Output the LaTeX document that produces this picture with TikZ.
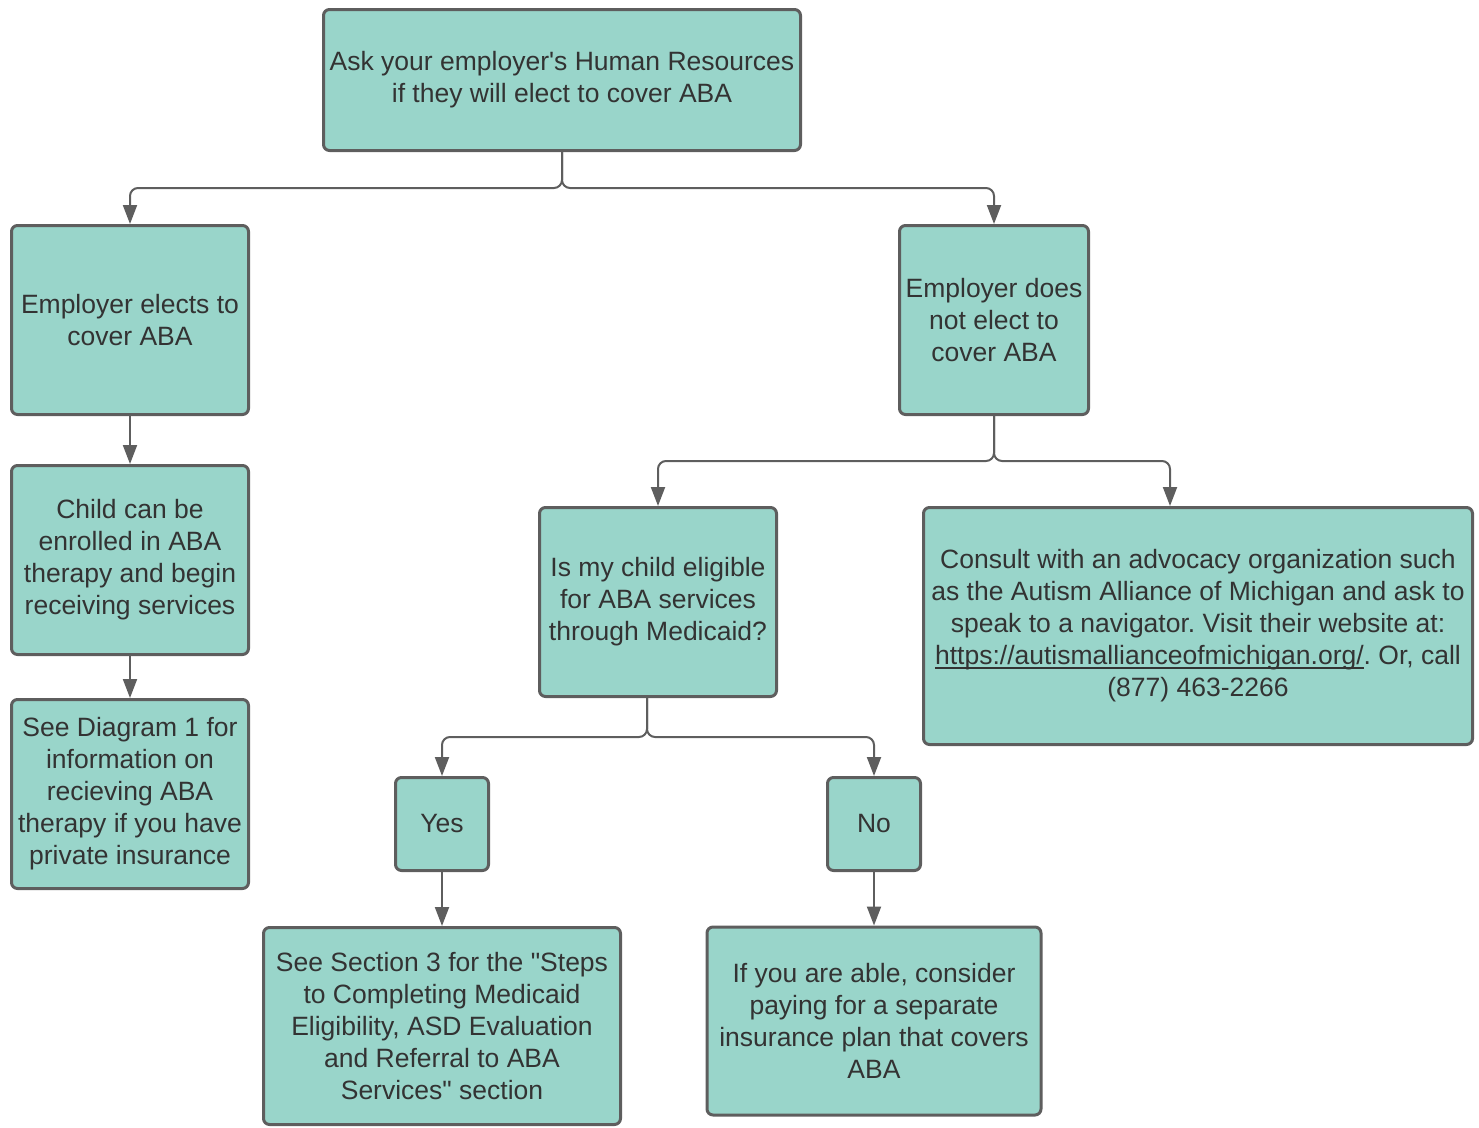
\documentclass[tikz,border=0pt]{standalone}
\usepackage{fontspec}
\setmainfont{Liberation Sans}[Ligatures=TeXOff]
\usetikzlibrary{arrows.meta}
\frenchspacing

\definecolor{boxfill}{HTML}{99D5CA}
\definecolor{boxline}{HTML}{5E5E5E}
\definecolor{boxtext}{HTML}{333333}

% underline with a thicker rule, as in the web link
\newcommand{\linkline}[1]{\setbox0\hbox{#1}\rlap{\rule[-4pt]{\wd0}{1.8pt}}\box0}

\tikzset{
  box/.style={draw=boxline, fill=boxfill, line width=3pt, rounded corners=6pt,
    text=boxtext, align=center, inner sep=0pt,
    font=\fontsize{26.5}{32}\selectfont},
  conn/.style={draw=boxline, line width=2pt, rounded corners=8pt,
    -{Triangle[length=19pt,width=14pt]}},
}

\begin{document}
\begin{tikzpicture}[x=1pt, y=-1pt]
  \useasboundingbox (0,0) rectangle (1479,1127);

  \node[box, minimum width=477pt, minimum height=141pt] (ask) at (562,80)
    {Ask your employer's Human Resources\\if they will elect to cover ABA};

  % left branch
  \node[box, minimum width=237pt, minimum height=189pt] (elects) at (130,320)
    {Employer elects to\\cover ABA};
  \node[box, minimum width=237pt, minimum height=189pt] (enrolled) at (130,560)
    {Child can be\\enrolled in ABA\\therapy and begin\\receiving services};
  \node[box, minimum width=237pt, minimum height=189pt] (diagram) at (130,794)
    {See Diagram 1 for\\information on\\recieving ABA\\therapy if you have\\private insurance};

  % right branch
  \node[box, minimum width=189pt, minimum height=189pt] (notelect) at (994,320)
    {Employer does\\not elect to\\cover ABA};
  \node[box, minimum width=237pt, minimum height=189pt] (medicaid) at (658,602)
    {Is my child eligible\\for ABA services\\through Medicaid?};
  \node[box, minimum width=549pt, minimum height=237pt] (consult) at (1198,626)
    {Consult with an advocacy organization such\\as the Autism Alliance of Michigan and ask to\\speak to a navigator. Visit their website at:\\\linkline{https://autismallianceofmichigan.org/}. Or, call\\(877) 463-2266};

  % yes / no
  \node[box, minimum width=93pt, minimum height=93pt] (yes) at (442,824) {Yes};
  \node[box, minimum width=93pt, minimum height=93pt] (no) at (874,824) {No};
  \node[box, minimum width=357pt, minimum height=197pt] (section) at (442,1026)
    {See Section 3 for the "Steps\\to Completing Medicaid\\Eligibility, ASD Evaluation\\and Referral to ABA\\Services" section};
  \node[box, minimum width=334pt, minimum height=188pt] (separate) at (874,1021)
    {If you are able, consider\\paying for a separate\\insurance plan that covers\\ABA};

  % connectors
  \coordinate (askfork) at (562,188);
  \draw[conn] (ask.south) -- (askfork) -| (elects.north);
  \draw[conn] (ask.south) -- (askfork) -| (notelect.north);
  \draw[conn] (elects) -- (enrolled);
  \draw[conn] (enrolled) -- (diagram);

  \coordinate (notfork) at (994,461);
  \draw[conn] (notelect.south) -- (notfork) -| (medicaid.north);
  \draw[conn] (notelect.south) -- (notfork) -| ([xshift=-28pt]consult.north);

  \coordinate (medfork) at (647,737);
  \draw[conn] (medicaid.south -| medfork) -- (medfork) -| (yes.north);
  \draw[conn] (medicaid.south -| medfork) -- (medfork) -| (no.north);
  \draw[conn] (yes) -- (section);
  \draw[conn] (no) -- (separate);
\end{tikzpicture}
\end{document}
